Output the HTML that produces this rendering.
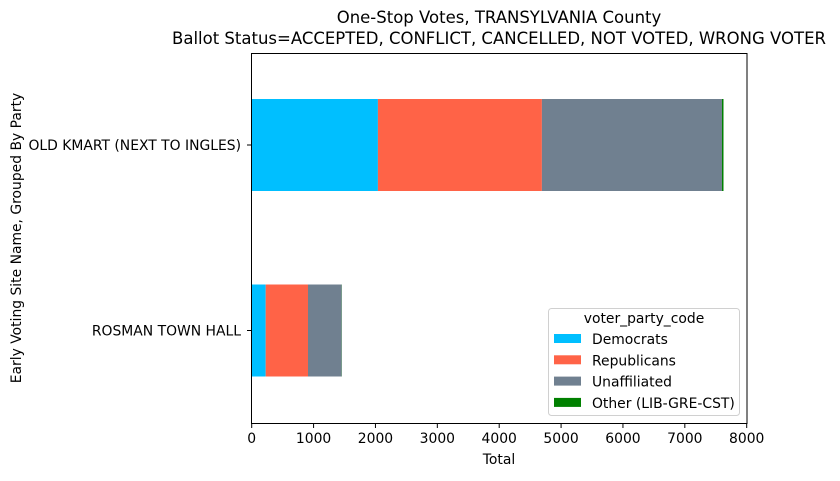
<!DOCTYPE html>
<html><head><meta charset="utf-8"><style>
body{margin:0;background:#fff;font-family:"Liberation Sans","DejaVu Sans",sans-serif;}
svg text{font-family:"DejaVu Sans","Liberation Sans",sans-serif;}
</style></head><body>
<svg id="chart" width="840" height="476" xmlns="http://www.w3.org/2000/svg">
<text x="499" y="23" font-size="16.5" text-anchor="middle">One-Stop Votes, TRANSYLVANIA County</text>
<text x="499" y="44" font-size="16.5" text-anchor="middle">Ballot Status=ACCEPTED, CONFLICT, CANCELLED, NOT VOTED, WRONG VOTER</text>
<g id="bars"></g>
<rect x="251.5" y="53.5" width="495.5" height="370" fill="none" stroke="#000" stroke-width="1"/>
<g id="xticks"></g><g id="yticks"></g>
<text x="499" y="464" font-size="13.9" text-anchor="middle">Total</text>
<text transform="translate(21,238) rotate(-90)" font-size="13.9" text-anchor="middle">Early Voting Site Name, Grouped By Party</text>
<g>
<rect x="548.5" y="308.5" width="191" height="107" rx="3" fill="#fff" stroke="#ccc" opacity="0.9"/>
<text x="644" y="323" font-size="13.9" text-anchor="middle">voter_party_code</text>
<g id="legend-items"></g>
</g>
</svg>
<script>
const categories=["OLD KMART (NEXT TO INGLES)","ROSMAN TOWN HALL"];
const seriesNames=["Democrats","Republicans","Unaffiliated","Other (LIB-GRE-CST)"];
const democrats=[2040,226];
const republicans=[2650,684];
const unaffiliated=[2910,544];
const other=[25,3];
const xTicks=[0,1000,2000,3000,4000,5000,6000,7000,8000];
const colors=["#00bfff","#ff6347","#708090","#008000"];
const NS="http://www.w3.org/2000/svg";
const x=v=>251.7+v*0.061875;
const yCenter=i=>145+i*185.5;
const barH=92;
const series=[democrats,republicans,unaffiliated,other];
const bars=document.getElementById('bars');
categories.forEach((c,i)=>{
  let acc=0;
  series.forEach((s,k)=>{
    const r=document.createElementNS(NS,'rect');
    r.setAttribute('x',x(acc));r.setAttribute('width',x(acc+s[i])-x(acc));
    r.setAttribute('y',yCenter(i)-barH/2);r.setAttribute('height',barH);
    r.setAttribute('fill',colors[k]);
    
    
    bars.appendChild(r);acc+=s[i];
  });
  const t=document.createElementNS(NS,'text');
  t.setAttribute('x',241);t.setAttribute('y',yCenter(i)+5);t.setAttribute('font-size','13.9');t.setAttribute('text-anchor','end');
  t.textContent=c;
  
  
  document.getElementById('yticks').appendChild(t);
  const l=document.createElementNS(NS,'line');
  l.setAttribute('x1',247);l.setAttribute('x2',251);l.setAttribute('y1',yCenter(i));l.setAttribute('y2',yCenter(i));l.setAttribute('stroke','#000');
  document.getElementById('yticks').appendChild(l);
});
xTicks.forEach(v=>{
  const g=document.getElementById('xticks');
  const l=document.createElementNS(NS,'line');
  l.setAttribute('x1',x(v));l.setAttribute('x2',x(v));l.setAttribute('y1',424);l.setAttribute('y2',428);l.setAttribute('stroke','#000');
  g.appendChild(l);
  const t=document.createElementNS(NS,'text');
  t.setAttribute('x',x(v));t.setAttribute('y',443);t.setAttribute('font-size','13.9');t.setAttribute('text-anchor','middle');
  t.textContent=v;
  
  
  g.appendChild(t);
});
const li=document.getElementById('legend-items');
seriesNames.forEach((n,k)=>{
  const r=document.createElementNS(NS,'rect');
  r.setAttribute('x',554);r.setAttribute('y',334+k*21.3);r.setAttribute('width',27);r.setAttribute('height',9);r.setAttribute('fill',colors[k]);
  
  
  li.appendChild(r);
  const t=document.createElementNS(NS,'text');
  t.setAttribute('x',592);t.setAttribute('y',344+k*21.3);t.setAttribute('font-size','13.9');
  t.textContent=n;
  
  
  li.appendChild(t);
});
</script>
</body></html>
